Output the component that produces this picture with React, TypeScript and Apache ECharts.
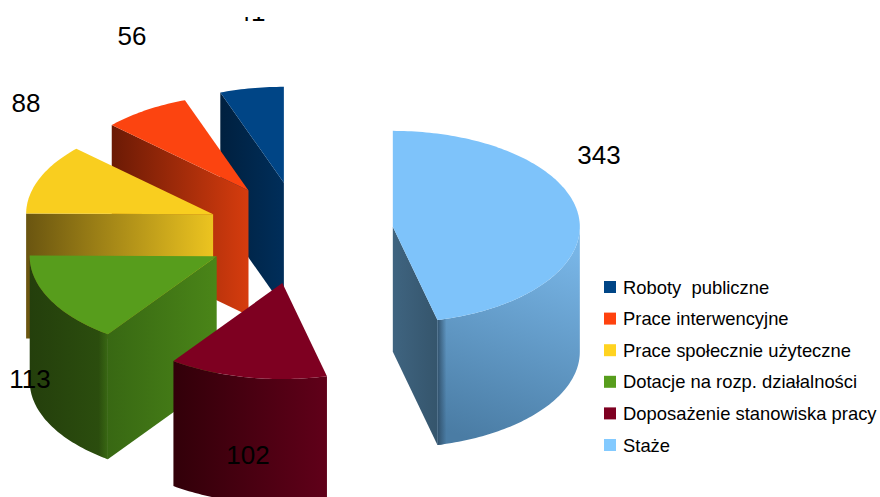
import React, { useEffect, useRef } from "react";
import * as echarts from "echarts";

const categories = ["Roboty  publiczne", "Prace interwencyjne", "Prace społecznie użyteczne", "Dotacje na rozp. działalności", "Doposażenie stanowiska pracy", "Staże"];
const values = [41, 56, 88, 113, 102, 343];
const colors = ["#004586", "#ff420e", "#ffd320", "#579d1c", "#7e0021", "#83caff"];
const topColors = ["#004586", "#fc4410", "#f9ce1f", "#579d1c", "#7e0021", "#7ec3fa"];

// pie geometry (pixels)
const CX = 300, CY = 233, RX = 187, RY = 96, DEPTH = 125, EXPLODE = 93.5, EXPLODE_Y = 0.545;
const labelPos = [[251, 11.5], [132, 36], [26, 103], [30, 379], [248, 455], [599, 155]];
const radialShade = [["#00203f", "#002e5a"], ["#6b1a05", "#d63c0e"], ["#6a5510", "#ecc420"], ["#386813", "#4a8518"], ["#32000a", "#32000a"], ["#3f6480", "#35556c"]];
const arcShade = [["#00203f", "#002e5a"], ["#6b1a05", "#d63c0e"], ["#6a5510", "#ecc420"], ["#243f0c", "#2c4f0e"], ["#320009", "#600019"], ["#78b5e6", "#4a7ca4"]];

const total = values.reduce((a, b) => a + b, 0);
const rad = (v: number) => (v / total) * Math.PI * 2;

function renderSlice(i: number) {
  return (params: any, api: any) => {
    const before = values.slice(0, i).reduce((a, b) => a + b, 0);
    const s = rad(before);
    const e = rad(before + (api.value(0) as number));
    const mid = (s + e) / 2;
    const ax = CX - EXPLODE * Math.sin(mid);
    const ay = CY - EXPLODE * EXPLODE_Y * Math.cos(mid);
    const pt = (t: number, dz = 0) => [ax - RX * Math.sin(t), ay - RY * Math.cos(t) + dz];
    const arcPts = (a: number, b: number, dz = 0) => {
      const n = Math.max(2, Math.ceil(Math.abs(b - a) / 0.02));
      const out: number[][] = [];
      for (let k = 0; k <= n; k++) out.push(pt(a + ((b - a) * k) / n, dz));
      return out;
    };
    const children: any[] = [];
    const poly = (points: number[][], fill: any) =>
      children.push({ type: "polygon", shape: { points }, style: { fill, stroke: "none" } });
    const hGrad = (x1: number, x2: number, stops: string[]) =>
      new echarts.graphic.LinearGradient(x1, 0, x2, 0, [{ offset: 0, color: stops[0] }, { offset: 1, color: stops[1] }], true);

    // radial side faces
    const edge = e < Math.PI ? e : s > Math.PI ? s : null;
    if (edge !== null) {
      const p = pt(edge);
      const x0 = Math.min(p[0], ax), x1 = Math.max(p[0], ax);
      poly([[ax, ay], p, [p[0], p[1] + DEPTH], [ax, ay + DEPTH]], hGrad(x0, x1, radialShade[i]));
    }
    // outer wall
    const a0 = Math.max(s, Math.PI / 2), a1 = Math.min(e, (3 * Math.PI) / 2);
    if (a1 > a0) {
      const top = arcPts(a0, a1);
      const bottom = arcPts(a1, a0, DEPTH);
      const xs = top.map((q) => q[0]);
      const minX = Math.min(...xs), maxX = Math.max(...xs);
      const minY = Math.min(...top.map((q) => q[1]));
      const maxY = Math.max(...bottom.map((q) => q[1]));
      const fill = i === 5
        ? new echarts.graphic.LinearGradient(minX + 120, minY + 20, minX + 50, maxY, [{ offset: 0, color: arcShade[i][0] }, { offset: 1, color: arcShade[i][1] }], true)
        : hGrad(minX, maxX, arcShade[i]);
      poly([...top, ...bottom], fill);
      // shaded crease where the wall meets a radial face
      if (i === 5) poly([...top, ...bottom], hGrad(minX, minX + 9, ["rgba(45,75,100,0.9)", "rgba(45,75,100,0)"]));
      if (i === 3) poly([...top, ...bottom], hGrad(maxX - 9, maxX, ["rgba(60,110,20,0)", "rgba(60,110,20,0.8)"]));
    }
    // top surface
    poly([[ax, ay], ...arcPts(s, e)], topColors[i]);
    // value label
    children.push({
      type: "text",
      x: labelPos[i][0],
      y: labelPos[i][1],
      style: { text: String(values[i]), fill: "#000000", font: '26px "Liberation Sans"', align: "center", verticalAlign: "middle" },
    });
    return { type: "group", children };
  };
}

export default function App() {
  const ref = useRef<HTMLDivElement>(null);
  useEffect(() => {
    const chart = echarts.init(ref.current!, null, { renderer: "svg" });
    chart.setOption({
      animation: false,
      backgroundColor: "#ffffff",
      legend: {
        orient: "vertical",
        left: 599,
        top: 273,
        itemWidth: 12,
        itemHeight: 12,
        itemGap: 13.6,
        data: categories.map((name) => ({ name, icon: "rect" })),
        textStyle: { fontFamily: "Liberation Sans", fontSize: 18.4, color: "#000000", lineHeight: 18, padding: [0, 0, 0, 2] },
      },
      graphic: [{ type: "rect", z: 1000, shape: { x: 0, y: 0, width: 880, height: 17 }, style: { fill: "#ffffff" } }],
      series: categories.map((name, i) => ({
        type: "custom",
        name,
        coordinateSystem: "none",
        silent: true,
        z: 2 + i,
        itemStyle: { color: colors[i] },
        data: [values[i]],
        renderItem: renderSlice(i),
      })),
    });
    return () => chart.dispose();
  }, []);
  return <div ref={ref} style={{ position: "absolute", left: 0, top: 0, width: 880, height: 497 }} />;
}
